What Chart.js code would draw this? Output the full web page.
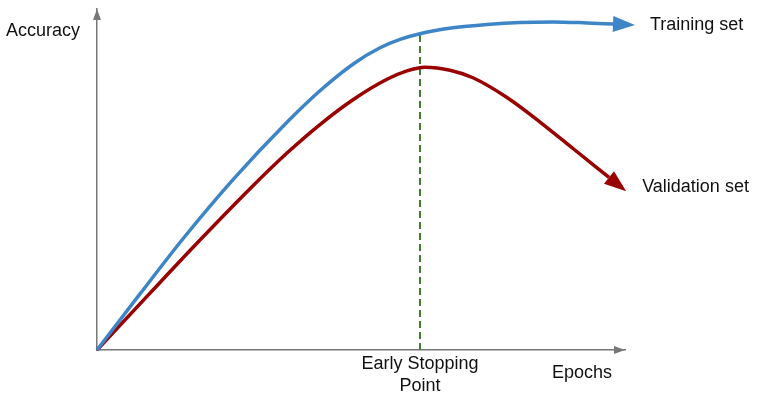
<!DOCTYPE html>
<html>
<head>
<meta charset="utf-8">
<script src="https://cdn.jsdelivr.net/npm/chart.js@4"></script>
<style>
  html, body { margin: 0; padding: 0; background: #fff; }
  #wrap { width: 765px; height: 400px; position: relative; }
</style>
</head>
<body>
<div id="wrap"><canvas id="c"></canvas></div>
<script>
// ---- data (x = epochs, arbitrary units 0..100; y = accuracy 0..100) ----
const trainX = [0, 8.14, 16.29, 25.76, 35.98, 42.23, 48.67, 53.6, 57.39, 61.17, 67.42, 73.86, 80.11, 86.36, 92.8, 97.73];
const trainY = [0, 16.44, 32.62, 49.97, 66.79, 76.03, 84.03, 88.62, 91.09, 92.74, 94.47, 95.47, 96.06, 96.21, 95.91, 95.59];
const validX = [0, 10.04, 19.51, 29.55, 35.98, 42.23, 48.48, 54.92, 58.71, 62.12, 66.86, 71.21, 77.65, 83.9, 90.15, 96.97];
const validY = [0, 16.68, 32.26, 48.18, 57.76, 66.12, 73.4, 79.4, 81.87, 82.94, 82.06, 79.84, 74.04, 66.85, 59.09, 50.62];
const stopX = 61.17;
const stopY = [0, 92.74];

const labels = {
  y: 'Accuracy',
  x: 'Epochs',
  train: 'Training set',
  valid: 'Validation set',
  stop: ['Early Stopping', 'Point']
};

const toPts = (xs, ys) => xs.map((x, i) => ({ x, y: ys[i] }));

const BLUE = '#3d85c6';
const RED = '#990000';
const GREEN = '#3f7d2f';
const AXIS = '#777777';
const FONT = '18px "Liberation Sans", Arial, sans-serif';

const decorations = {
  id: 'decorations',
  afterDatasetsDraw(chart) {
    const ctx = chart.ctx;
    const area = chart.chartArea;
    const xs = chart.scales.x, ys = chart.scales.y;

    // axis arrowheads
    ctx.save();
    ctx.fillStyle = AXIS;
    const ox = xs.getPixelForValue(0), oy = ys.getPixelForValue(0);
    ctx.beginPath();
    ctx.moveTo(ox, area.top);
    ctx.lineTo(ox - 4, area.top + 11);
    ctx.lineTo(ox + 4, area.top + 11);
    ctx.closePath();
    ctx.fill();
    ctx.beginPath();
    ctx.moveTo(area.right, oy);
    ctx.lineTo(area.right - 11, oy - 4);
    ctx.lineTo(area.right - 11, oy + 4);
    ctx.closePath();
    ctx.fill();

    // curve arrowheads
    const tips = [];
    [[0, BLUE], [1, RED]].forEach(([di, col]) => {
      const pts = chart.getDatasetMeta(di).data;
      const p = pts[pts.length - 1];
      const q = pts[pts.length - 2];
      let dx = p.x - (p.cp1x ?? q.x);
      let dy = p.y - (p.cp1y ?? q.y);
      const len = Math.hypot(dx, dy) || 1;
      dx /= len; dy /= len;
      const L = 22, W = 8;
      const tx = p.x + dx * L, ty = p.y + dy * L;
      ctx.fillStyle = col;
      ctx.beginPath();
      ctx.moveTo(tx, ty);
      ctx.lineTo(p.x - dy * W, p.y + dx * W);
      ctx.lineTo(p.x + dy * W, p.y - dx * W);
      ctx.closePath();
      ctx.fill();
      tips.push({ x: tx, y: ty });
    });

    // texts
    ctx.fillStyle = '#111';
    ctx.font = FONT;
    ctx.textBaseline = 'middle';
    ctx.textAlign = 'left';
    ctx.fillText(labels.y, 6, area.top + 22);
    ctx.fillText(labels.train, tips[0].x + 15, tips[0].y);
    ctx.fillText(labels.valid, tips[1].x + 16, tips[1].y - 4);

    ctx.textAlign = 'center';
    const sx = xs.getPixelForValue(stopX);
    ctx.fillText(labels.stop[0], sx, oy + 14);
    ctx.fillText(labels.stop[1], sx, oy + 36);
    ctx.fillText(labels.x, area.right - 43, oy + 23);
    ctx.restore();
  }
};

new Chart(document.getElementById('c'), {
  type: 'line',
  data: {
    datasets: [
      {
        data: toPts(trainX, trainY),
        borderColor: BLUE,
        borderWidth: 3.5,
        pointRadius: 0,
        cubicInterpolationMode: 'monotone',
        fill: false,
        clip: false
      },
      {
        data: toPts(validX, validY),
        borderColor: RED,
        borderWidth: 3.5,
        pointRadius: 0,
        cubicInterpolationMode: 'monotone',
        fill: false,
        clip: false
      },
      {
        data: stopY.map(y => ({ x: stopX, y })),
        borderColor: GREEN,
        borderWidth: 2,
        borderDash: [7, 4],
        pointRadius: 0,
        tension: 0,
        fill: false,
        clip: false
      }
    ]
  },
  options: {
    responsive: true,
    maintainAspectRatio: false,
    animation: false,
    events: [],
    layout: { padding: { left: 97, right: 140, top: 9, bottom: 50 } },
    plugins: { legend: { display: false }, tooltip: { enabled: false } },
    scales: {
      x: {
        type: 'linear', min: 0, max: 100,
        grid: { display: false },
        ticks: { display: false },
        border: { display: true, color: AXIS, width: 1.5 },
        afterFit: s => { s.height = 0; }
      },
      y: {
        type: 'linear', min: 0, max: 100,
        grid: { display: false },
        ticks: { display: false },
        border: { display: true, color: AXIS, width: 1.5 },
        afterFit: s => { s.width = 0; }
      }
    }
  },
  plugins: [decorations]
});
</script>
</body>
</html>
